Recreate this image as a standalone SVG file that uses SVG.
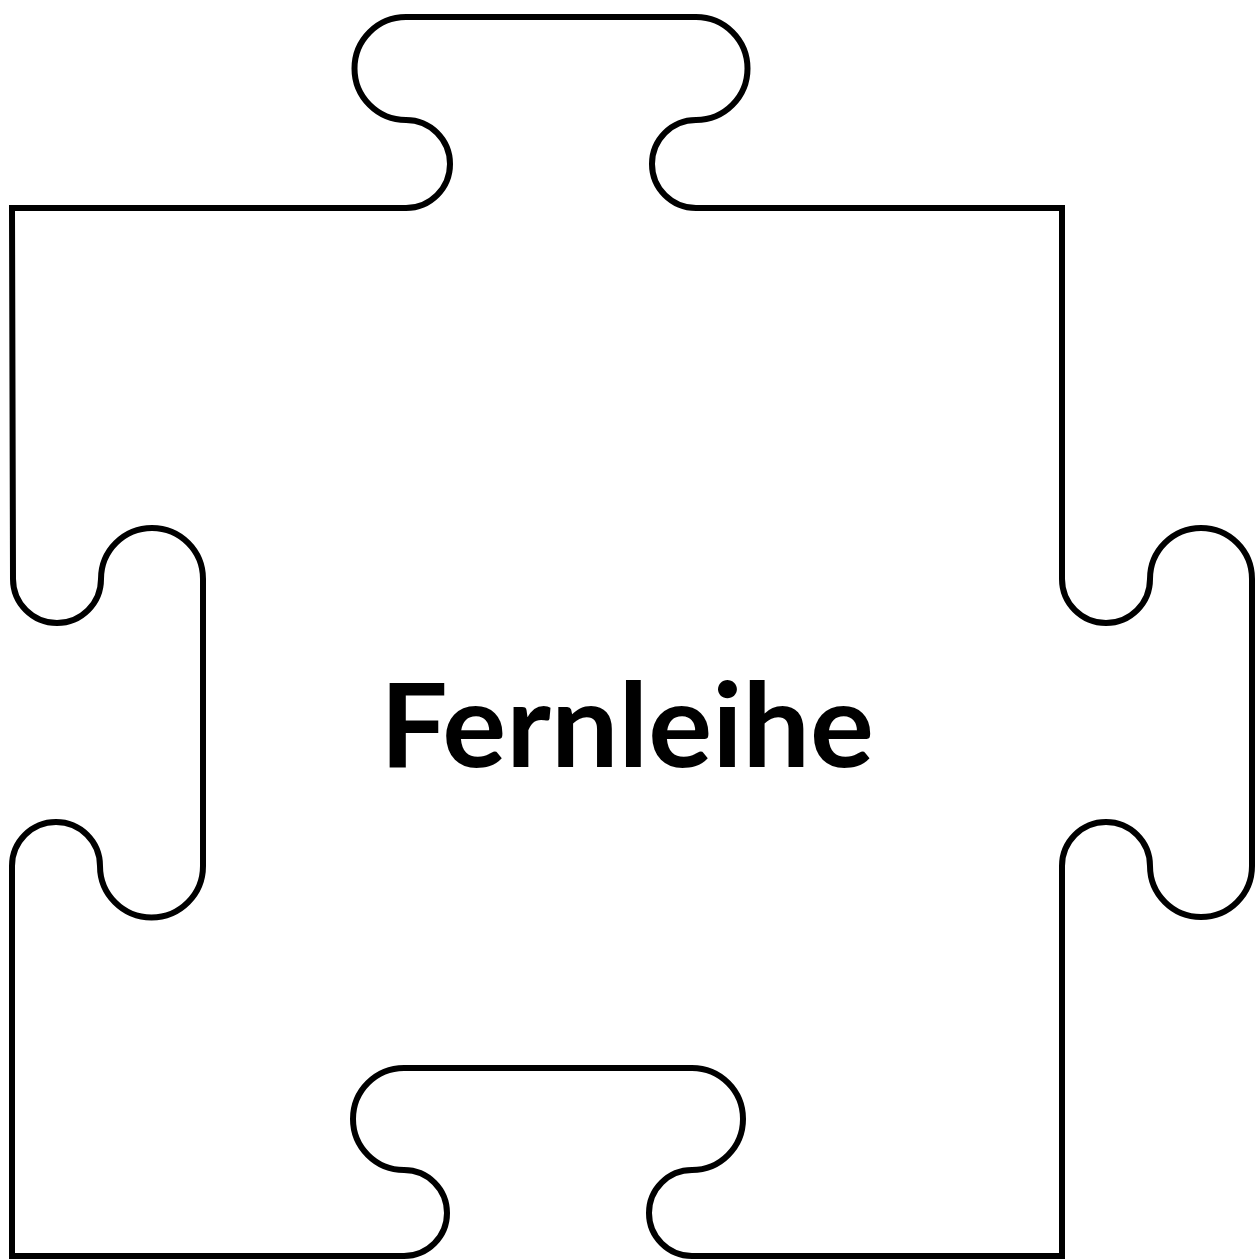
<svg xmlns="http://www.w3.org/2000/svg" width="1255" height="1259" viewBox="0 0 1255 1259">
<style>
.piece{fill:#ffffff;stroke:#000000;stroke-width:6;stroke-linejoin:miter}
.label{font-family:"Lato","Open Sans","Liberation Sans",sans-serif;font-weight:700;font-size:117px;fill:#000000}
</style>
<rect x="0" y="0" width="1255" height="1259" fill="#ffffff"/>
<g id="puzzle-piece">
<path class="piece" d="M12,208 L406,208 A44,44 0 0 0 406,120 A51.5,51.5 0 0 1 406,17 L696,17 A51.5,51.5 0 0 1 696,120 A44,44 0 0 0 696,208 L1062,208 L1062,579 A44,44 0 0 0 1150,579 A51,51 0 0 1 1252,579 L1252,866 A51,51 0 0 1 1150,866 A44,44 0 0 0 1062,866 L1062,1256 L692,1256 A43,43 0 0 1 692,1170 A51,51 0 0 0 692,1068 L404,1068 A51,51 0 0 0 404,1170 A43,43 0 0 1 404,1256 L12,1256 L12,866 A44,44 0 0 1 100,866 A51.5,51.5 0 0 0 203,866 L203,579 A51,51 0 0 0 101,579 A44,44 0 0 1 13,579 Z"/>
<text class="label" x="380" y="767" textLength="494" lengthAdjust="spacingAndGlyphs">Fernleihe</text>
</g>
<g id="connectors"/>
</svg>
